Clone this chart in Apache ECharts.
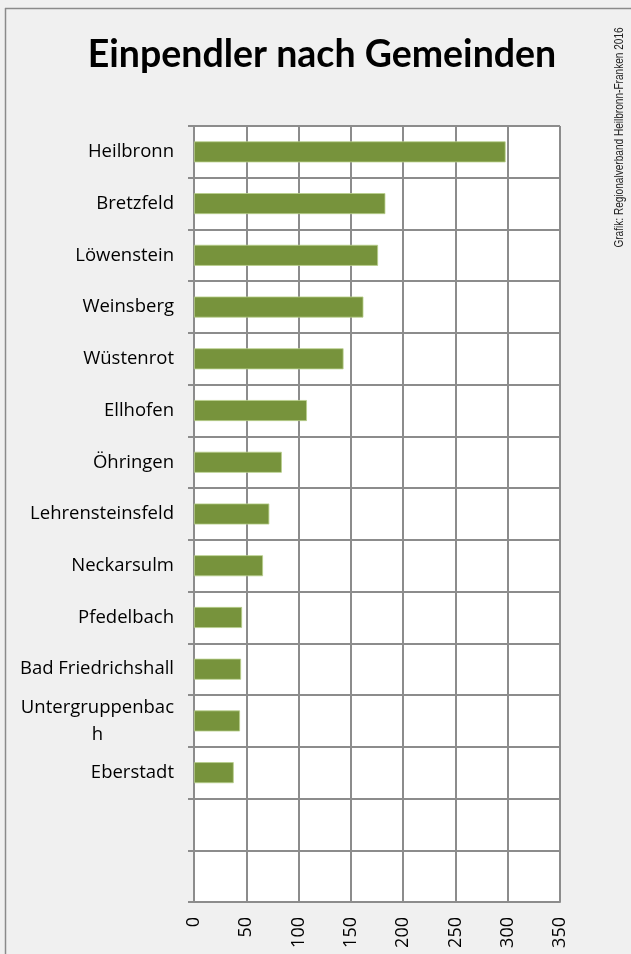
<!DOCTYPE html>
<html>
<head>
<meta charset="utf-8">
<script src="https://cdn.jsdelivr.net/npm/echarts@6/dist/echarts.min.js"></script>
<style>
html,body{margin:0;padding:0;background:#f0f0f0;}
#chart{width:631px;height:954px;}
</style>
</head>
<body>
<div id="chart"></div>
<script>
const titleText = 'Einpendler nach Gemeinden';
const sourceText = 'Grafik: Regionalverband Heilbronn-Franken 2016';
const categories = ['Heilbronn','Bretzfeld','Löwenstein','Weinsberg','Wüstenrot','Ellhofen','Öhringen','Lehrensteinsfeld','Neckarsulm','Pfedelbach','Bad Friedrichshall','Untergruppenbach','Eberstadt','',' '];
const values = [298,183,176,162,143,108,84,72,66,46,45,44,38,null,null];
const xTicks = [0,50,100,150,200,250,300,350];

const chart = echarts.init(document.getElementById('chart'));
const grey = '#8c8c8c';
chart.setOption({
  backgroundColor: '#f0f0f0',
  animation: false,
  title: {
    text: titleText,
    left: 317, top: 31, textAlign: 'center',
    textStyle: {fontFamily: 'Lato', fontWeight: 'bold', fontSize: 37.5, color: '#000'}
  },
  graphic: [
    {type: 'line', shape: {x1: 5.5, y1: 8, x2: 5.5, y2: 954}, style: {stroke: '#8a8a8a', lineWidth: 1.5}},
    {type: 'line', shape: {x1: 5, y1: 8.5, x2: 631, y2: 8.5}, style: {stroke: '#8a8a8a', lineWidth: 1.5}},
    {type: 'text', x: 620, y: 137.5, rotation: Math.PI / 2, scaleX: 0.84,
      style: {text: sourceText, fontFamily: 'Liberation Sans', fontSize: 12, fill: '#222', align: 'center', verticalAlign: 'middle'}}
  ],
  grid: {left: 194, right: 71, top: 126, bottom: 52, show: true, backgroundColor: '#fff', borderWidth: 0},
  xAxis: {
    type: 'value', min: 0, max: 350, interval: 50,
    axisLine: {show: true, lineStyle: {color: grey, width: 2}},
    axisTick: {show: false},
    splitLine: {show: true, lineStyle: {color: grey, width: 2}},
    axisLabel: {rotate: 90, margin: 15, fontFamily: 'Open Sans', fontSize: 18, color: '#000',
      formatter: v => xTicks.includes(v) ? String(v) : ''}
  },
  yAxis: {
    type: 'category', data: categories, inverse: true,
    axisLine: {show: true, lineStyle: {color: grey, width: 2}},
    axisTick: {show: true, length: 6, lineStyle: {color: grey, width: 2}},
    splitLine: {show: true, lineStyle: {color: grey, width: 2}},
    axisLabel: {
      margin: 20, fontFamily: 'Open Sans', fontSize: 18.5, color: '#000',
      formatter: function (v) {
        if (v === 'Untergruppenbach') return '{a|Untergruppenbac}\n{b|h}';
        return v;
      },
      rich: {
        a: {fontFamily: 'Open Sans', fontSize: 18.5, color: '#000', lineHeight: 27},
        b: {fontFamily: 'Open Sans', fontSize: 18.5, color: '#000', lineHeight: 27, width: 153, align: 'center'}
      }
    }
  },
  series: [{
    type: 'bar', data: values, barWidth: 21,
    itemStyle: {color: '#77933c', borderColor: '#b9cf8c', borderWidth: 0.8}
  }]
});
</script>
</body>
</html>
